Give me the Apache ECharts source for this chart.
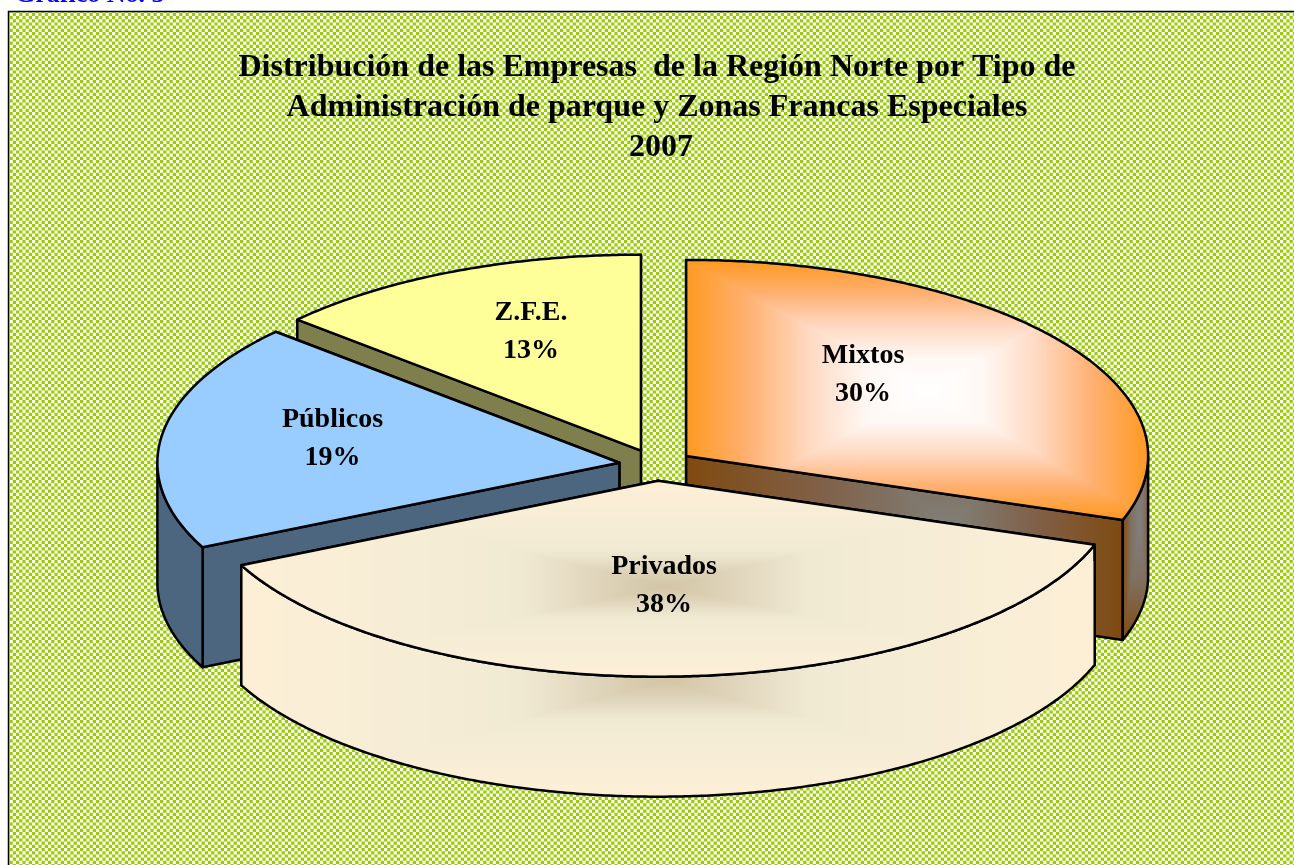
<!DOCTYPE html>
<html><head><meta charset="utf-8">
<style>html,body{margin:0;padding:0;background:#fff;overflow:hidden}#c{width:1294px;height:865px}</style>
<script src="https://cdn.jsdelivr.net/npm/echarts@6/dist/echarts.min.js"></script>
</head><body><div id="c"></div>
<script>
// ---- data ----
const categories = ['Mixtos', 'Privados', 'Públicos', 'Z.F.E.'];
const shares = [30.3, 37.6, 18.75, 13.35];
const titleLines = ['Distribución de las Empresas  de la Región Norte por Tipo de', 'Administración de parque y Zonas Francas Especiales', '\u00a02007'];
const captionText = 'Gráfico No. 5';

// ---- layout ----
const W = 1294, H = 865;
const centre = [656, 465], rx = 462, ry = 196, depth = 120, explode = 37;
const labelOffsets = [[0.383, -0.413], [0.013, 0.538], [-0.621, -0.121], [-0.238, -0.605]];
const paintOrder = [3, 4, 2, 1];
const serif = '"Liberation Serif","Times New Roman",serif';

// ---- paints ----
function hex(c) { return [1, 3, 5].map(i => parseInt(c.substr(i, 2), 16)); }
function ramp(stops, t) {
  t = Math.min(1, Math.max(0, t));
  for (let i = 1; i < stops.length; i++) {
    if (t <= stops[i][0]) {
      const a = stops[i - 1], b = stops[i], f = (t - a[0]) / (b[0] - a[0] || 1);
      const ca = hex(a[1]), cb = hex(b[1]);
      return ca.map((v, k) => v + (cb[k] - v) * f);
    }
  }
  return hex(stops[stops.length - 1][1]);
}
// rectangular "from centre" gradient painted in page coordinates
function boxGradient(x0, x1, y0, y1, cx, cy, stops) {
  const cv = document.createElement('canvas'); cv.width = W; cv.height = H;
  const g = cv.getContext('2d');
  const xa = Math.max(0, x0 - 4), ya = Math.max(0, y0 - 4), w = Math.min(W, x1 + 4) - xa, h = Math.min(H, y1 + 4) - ya;
  const im = g.createImageData(w, h);
  for (let j = 0; j < h; j++) for (let i = 0; i < w; i++) {
    const x = xa + i, y = ya + j;
    const tx = x < cx ? (cx - x) / (cx - x0) : (x - cx) / (x1 - cx);
    const ty = y < cy ? (cy - y) / (cy - y0) : (y - cy) / (y1 - cy);
    const c = ramp(stops, Math.max(tx, ty)), p = (j * w + i) * 4;
    im.data[p] = c[0]; im.data[p + 1] = c[1]; im.data[p + 2] = c[2]; im.data[p + 3] = 255;
  }
  g.putImageData(im, xa, ya);
  return { image: cv, repeat: 'no-repeat' };
}
function plaid() {
  const n = 32, s = 3.2, ss = 4, cv = document.createElement('canvas'); cv.width = cv.height = n;
  const g = cv.getContext('2d');
  const G = [153, 204, 0];
  for (let y = 0; y < n; y++) for (let x = 0; x < n; x++) {
    let cov = 0;
    for (let b = 0; b < ss; b++) for (let a = 0; a < ss; a++) {
      if ((Math.floor((x + (a + .5) / ss) / s) + Math.floor((y + (b + .5) / ss) / s)) % 2 === 0) cov++;
    }
    cov /= ss * ss;
    const c = G.map(v => Math.round(v * cov + 255 * (1 - cov)));
    g.fillStyle = 'rgb(' + c.join(',') + ')';
    g.fillRect(x, y, 1, 1);
  }
  return { image: cv, repeat: 'repeat' };
}
const mixedStops = [[0, '#ffffff'], [0.25, '#fff8f4'], [0.5, '#ffd8c0'], [0.75, '#ffb070'], [1, '#ff9920']];
const mixedWall = [[0, '#808078'], [0.5, '#806048'], [1, '#7f4a10']];
const mixedRim = [[0, '#808080'], [0.5, '#807060'], [1, '#7f4a10']];
const privStops = [[0, '#d3c5a5'], [0.16, '#dfd5bb'], [0.34, '#f1ead3'], [0.6, '#f6edd6'], [1, '#fdefd6']];
const paints = [
  { top: boxGradient(686, 1148, 260, 518, 928, 390, mixedStops),
    cut: boxGradient(686, 1122, 300, 760, 950, 530, mixedWall),
    rim: boxGradient(1122, 1150, 420, 640, 1139, 520, mixedRim) },
  { top: boxGradient(239, 1096, 481, 677, 664, 586, privStops),
    cut: '#f4ecd5',
    rim: boxGradient(239, 1096, 565, 796, 664, 680, privStops) },
  { top: '#99ccff', cut: '#4d667f', rim: '#4d667f' },
  { top: '#ffff99', cut: '#7f7f4d', rim: '#7f7f4d' }
];

// ---- geometry from the values ----
const total = shares.reduce((a, b) => a + b, 0);
let acc = 0;
const arcs = shares.map(v => { const a = [acc, acc + v / total * 360]; acc = a[1]; return a; });
const rad = d => d * Math.PI / 180;

function renderItem(params, api) {
  const i = params.dataIndex, v = api.value(0);
  const a0 = arcs[i][0], a1 = arcs[i][1], mid = rad((a0 + a1) / 2);
  const ax = centre[0] + explode * Math.sin(mid), ay = centre[1] - explode * ry / rx * Math.cos(mid);
  const rim = d => [ax + rx * Math.sin(rad(d)), ay - ry * Math.cos(rad(d))];
  const low = p => [p[0], p[1] + depth];
  const top = [[ax, ay]];
  for (let d = a0; d < a1; d += 0.5) top.push(rim(d));
  top.push(rim(a1));
  const line = { stroke: '#000', lineWidth: 2.5, lineJoin: 'round' };
  const poly = (pts, fill) => ({ type: 'polygon', shape: { points: pts }, style: Object.assign({ fill }, line) });
  const kids = [];
  [a0, a1].sort((p, q) => rim(p)[1] - rim(q)[1]).forEach(d => {
    const r = rim(d), A = [ax, ay];
    kids.push(poly([A, r, low(r), low(A)], paints[i].cut));
  });
  const s = Math.max(a0, 90), e = Math.min(a1, 270);
  if (e > s) {
    const up = [];
    for (let d = s; d < e; d += 0.5) up.push(rim(d));
    up.push(rim(e));
    kids.push(poly(up.concat(up.slice().reverse().map(low)), paints[i].rim));
  }
  kids.push(poly(top, paints[i].top));
  kids.push({
    type: 'text', z2: 50,
    x: ax + labelOffsets[i][0] * rx, y: ay + labelOffsets[i][1] * ry,
    style: {
      text: categories[i] + '\n' + Math.round(v) + '%', fill: '#000', align: 'center', verticalAlign: 'middle',
      font: 'bold 28px ' + serif, lineHeight: 38
    }
  });
  kids.forEach((k, n) => { if (k.type !== 'text') k.z2 = paintOrder[i] * 10 + n; });
  return { type: 'group', children: kids };
}

const chart = echarts.init(document.getElementById('c'), null, { renderer: 'canvas', width: W, height: H });
chart.setOption({
  animation: false,
  backgroundColor: '#ffffff',
  title: [
    { text: titleLines.join('\n'), left: 652, top: 43, textAlign: 'center',
      textStyle: { fontFamily: serif, fontWeight: 'bold', fontSize: 32, lineHeight: 40, color: '#000' } },
    { text: captionText, left: 10, top: -23,
      textStyle: { fontFamily: serif, fontWeight: 'bold', fontSize: 26, color: '#0000ff' } }
  ],
  graphic: { elements: [{
    type: 'rect', z: -10, silent: true,
    shape: { x: 8.5, y: 11.5, width: W + 10, height: H + 10 },
    style: { fill: plaid(), stroke: '#000', lineWidth: 1.5 }
  }] },
  series: [{
    type: 'custom', coordinateSystem: 'none', silent: true,
    data: shares.map(v => [v]),
    renderItem
  }]
});
</script></body></html>
